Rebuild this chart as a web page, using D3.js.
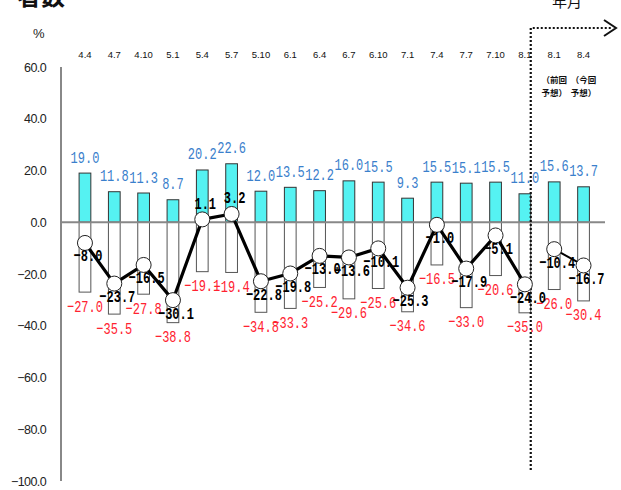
<!DOCTYPE html>
<html><head><meta charset="utf-8">
<script src="https://cdn.jsdelivr.net/npm/d3@7/dist/d3.min.js"></script>
<style>
html,body{margin:0;padding:0;background:#fff;}
svg{display:block;}
</style></head>
<body>
<svg id="chart" width="621" height="490"></svg>
<script>
const categories = ["4.4","4.7","4.10","5.1","5.4","5.7","5.10","6.1","6.4","6.7","6.10","7.1","7.4","7.7","7.10","8.1","8.1","8.4"];
const increase = [19.0,11.8,11.3,8.7,20.2,22.6,12.0,13.5,12.2,16.0,15.5,9.3,15.5,15.1,15.5,11.0,15.6,13.7];
const decrease = [-27.0,-35.5,-27.8,-38.8,-19.1,-19.4,-34.8,-33.3,-25.2,-29.6,-25.6,-34.6,-16.5,-33.0,-20.6,-35.0,-26.0,-30.4];
const net = [-8.0,-23.7,-16.5,-30.1,1.1,3.2,-22.8,-19.8,-13.0,-13.6,-10.1,-25.3,-1.0,-17.9,-5.1,-24.0,-10.4,-16.7];
const actualCount = 16;
const yTicks = [60,40,20,0,-20,-40,-60,-80,-100];
const forecastNotes = [["（前回","予想）"],["（今回","予想）"]];
const titleText = "者数";
const unitText = "%";
const xTitle = "年月";

const svg = d3.select("#chart");
const idx = d3.range(categories.length);
const x = d3.scaleBand().domain(idx).range([61.5, 607]).padding(0.6);
const y = d3.scaleLinear().domain([-100, 60]).range([481, 67]);
const cx = i => x(i) + x.bandwidth() / 2;
const fmt = d3.format(".1f");
const monoFont = "'Liberation Mono','DejaVu Sans Mono',monospace";

// title bits
svg.append("text").attr("x", 17).attr("y", 5).attr("font-family", "'Noto Sans CJK JP',sans-serif")
  .attr("font-size", 24).attr("font-weight", "bold").attr("fill", "#111").text(titleText);
svg.append("text").attr("x", 33).attr("y", 38).attr("font-family", "'Liberation Sans',Arial,sans-serif")
  .attr("font-size", 13).attr("fill", "#222").text(unitText);
svg.append("text").attr("x", 552).attr("y", 7).attr("font-family", "'Noto Sans CJK JP',sans-serif")
  .attr("font-size", 15).attr("fill", "#111").text(xTitle);

// y tick labels
const yAxis = d3.axisLeft(y).tickValues(yTicks).tickFormat(fmt).tickSize(0).tickPadding(15);
const ga = svg.append("g").attr("transform", "translate(61,0)").call(yAxis);
ga.select(".domain").remove();
ga.selectAll("text").attr("font-family", "'Liberation Sans',Arial,sans-serif").attr("font-size", 12.5)
  .attr("letter-spacing", "-0.6").attr("fill", "#222");

// category labels
const xAxis = d3.axisTop(x).tickFormat(i => categories[i]).tickSize(0).tickPadding(0);
const gx = svg.append("g").attr("transform", "translate(0,58)").call(xAxis);
gx.select(".domain").remove();
gx.selectAll("text").attr("font-family", "'Liberation Sans',Arial,sans-serif").attr("font-size", 9.5)
  .attr("fill", "#111");

// y axis line
svg.append("line").attr("x1", 61).attr("x2", 61).attr("y1", y(60)).attr("y2", y(-100))
  .attr("stroke", "#888").attr("stroke-width", 2);

// bars
svg.append("g").selectAll("rect").data(idx).join("rect")
  .attr("x", i => x(i)).attr("width", x.bandwidth())
  .attr("y", i => y(increase[i])).attr("height", i => y(0) - y(increase[i]))
  .attr("fill", "#55f2f2").attr("stroke", "#333").attr("stroke-width", 1);
svg.append("g").selectAll("rect").data(idx).join("rect")
  .attr("x", i => x(i)).attr("width", x.bandwidth())
  .attr("y", y(0)).attr("height", i => y(decrease[i]) - y(0))
  .attr("fill", "#fff").attr("stroke", "#555").attr("stroke-width", 1);

// zero line
svg.append("line").attr("x1", 61).attr("x2", 605).attr("y1", y(0)).attr("y2", y(0))
  .attr("stroke", "#888").attr("stroke-width", 2);

// forecast separator
const sepX = x.range()[0] + x.step() * actualCount;
svg.append("path").attr("d", `M${sepX},470 L${sepX},28 L612,28`).attr("fill", "none")
  .attr("stroke", "#111").attr("stroke-width", 2.2).attr("stroke-dasharray", "2,2");
svg.append("path").attr("d", "M604,20 L616,28 L604,36").attr("fill", "none")
  .attr("stroke", "#111").attr("stroke-width", 2);
forecastNotes.forEach((lines, k) => {
  const i = actualCount + k;
  lines.forEach((t, j) => {
    svg.append("text").attr("x", cx(i)).attr("y", 83 + j * 13).attr("text-anchor", "middle")
      .attr("font-family", "'Noto Sans CJK JP',sans-serif").attr("font-size", 8.5).attr("font-weight", "bold")
      .attr("fill", "#111").text(t);
  });
});

// labels helper
function label(g, txt, xx, yy, color, bold) {
  const t = g.append("text").attr("x", xx).attr("y", yy).attr("text-anchor", "middle")
    .attr("dominant-baseline", "central").attr("font-family", monoFont).attr("font-size", 17)
    .attr("fill", color).attr("textLength", txt.length * 7.2).attr("lengthAdjust", "spacingAndGlyphs")
    .text(txt);
  if (bold) t.attr("font-weight", "bold");
}
const gl = svg.append("g");
idx.forEach(i => label(gl, fmt(increase[i]), cx(i), y(increase[i]) - 15, "#3a80cc", false));
idx.forEach(i => label(gl, fmt(decrease[i]), cx(i), y(decrease[i]) + 15, "#ff2230", false));

// net line
const line = d3.line().x(i => cx(i)).y(i => y(net[i]));
svg.append("path").attr("d", line(idx.slice(0, actualCount))).attr("fill", "none")
  .attr("stroke", "#000").attr("stroke-width", 3.2).attr("stroke-linejoin", "round");
svg.append("path").attr("d", line(idx.slice(actualCount))).attr("fill", "none")
  .attr("stroke", "#000").attr("stroke-width", 2);
svg.append("g").selectAll("circle").data(idx).join("circle")
  .attr("cx", i => cx(i)).attr("cy", i => y(net[i])).attr("r", 7.5)
  .attr("fill", "#fff").attr("stroke", "#222").attr("stroke-width", 1);
const gn = svg.append("g");
idx.forEach(i => label(gn, fmt(net[i]), cx(i) + 3, y(net[i]) + (net[i] >= 0 ? -15 : 14), "#000", true));
</script>
</body></html>
